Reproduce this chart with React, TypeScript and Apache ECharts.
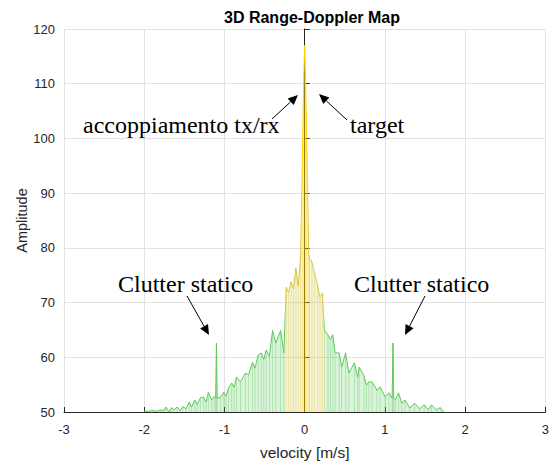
import React, { useEffect, useRef } from "react";
import * as echarts from "echarts";

// velocity [m/s] sample positions
const velocity = [
  -2.0, -1.95, -1.9, -1.85, -1.8, -1.76, -1.73, -1.69, -1.66, -1.63, -1.59, -1.55, -1.52, -1.48,
  -1.44, -1.41, -1.37, -1.34, -1.3, -1.26, -1.23, -1.2, -1.16, -1.13, -1.11, -1.1, -1.09, -1.05,
  -1.01, -0.98, -0.95, -0.91, -0.88, -0.85, -0.8, -0.74, -0.7, -0.65, -0.62, -0.58, -0.54, -0.51,
  -0.48, -0.44, -0.4, -0.36, -0.3, -0.26, -0.23, -0.2, -0.17, -0.14, -0.11, -0.08, -0.05, -0.025,
  -0.01, 0, 0.01, 0.025, 0.05, 0.06, 0.09, 0.12, 0.16, 0.19, 0.22, 0.245, 0.29, 0.32, 0.35, 0.38,
  0.43, 0.46, 0.51, 0.55, 0.62, 0.66, 0.68, 0.74, 0.77, 0.8, 0.84, 0.9, 0.94, 1.0, 1.05, 1.09, 1.1,
  1.11, 1.13, 1.17, 1.21, 1.25, 1.31, 1.37, 1.43, 1.49, 1.54, 1.58, 1.64, 1.69, 1.73,
];

// amplitude envelope values
const amplitude = [
  50.2, 50.1, 50.3, 50.1, 50.4, 50.2, 50.9, 50.0, 50.8, 50.4, 50.9, 50.3, 51.0, 50.6,
  51.8, 50.9, 52.2, 51.4, 52.6, 52.7, 51.8, 53.6, 52.2, 52.8, 52.5, 62.6, 52.5, 52.7,
  53.6, 52.9, 54.4, 55.3, 54.5, 56.4, 55.5, 57.1, 56.8, 59.1, 58.0, 60.4, 60.8, 59.6,
  61.3, 60.2, 64.9, 62.6, 64.9, 60.8, 72.8, 71.8, 73.8, 72.5, 76.3, 73.0, 79.0, 100,
  112, 117, 112, 100, 79, 78.1, 77.4, 75.5, 73.2, 71.0, 71.7, 65.0, 64.1, 63.2, 64.1, 60.8,
  60.8, 58.2, 60.8, 57.1, 59.0, 56.4, 58.2, 56.6, 54.9, 55.5, 55.5, 54.0, 54.6, 52.8, 53.5, 52.5, 62.6,
  52.5, 52.2, 53.5, 51.6, 52.2, 50.7, 51.6, 50.6, 51.3, 50.4, 51.3, 50.4, 50.8, 50.0,
];

const title = "3D Range-Doppler Map";
const xName = "velocity [m/s]";
const yName = "Amplitude";
const annotations = [
  { text: "accoppiamento tx/rx", x: 83, y: 125 },
  { text: "target", x: 350, y: 125 },
  { text: "Clutter statico", x: 118, y: 284 },
  { text: "Clutter statico", x: 354, y: 284 },
];
const arrows = [
  [272, 119, 298, 95],
  [347, 120, 319, 94],
  [187, 296, 209, 335],
  [425, 296, 405, 335],
];

function arrowGraphics(a: number[]) {
  const [x1, y1, x2, y2] = a;
  const dx = x2 - x1;
  const dy = y2 - y1;
  const len = Math.hypot(dx, dy);
  const ux = dx / len;
  const uy = dy / len;
  const L = 10;
  const W = 4.5;
  const bx = x2 - ux * L;
  const by = y2 - uy * L;
  const px = -uy;
  const py = ux;
  return [
    {
      type: "line",
      shape: { x1, y1, x2: bx, y2: by },
      style: { stroke: "#000", lineWidth: 1 },
      z: 100,
    },
    {
      type: "polygon",
      shape: {
        points: [
          [x2, y2],
          [bx + px * W, by + py * W],
          [bx - px * W, by - py * W],
        ],
      },
      style: { fill: "#000" },
      z: 100,
    },
  ];
}

export default function App() {
  const ref = useRef<HTMLDivElement>(null);
  useEffect(() => {
    if (!ref.current) return;
    const chart = echarts.init(ref.current, undefined, { renderer: "svg" });
    const data = velocity.map((v, i) => [v, amplitude[i]]);
    const axisColor = "#262626";
    const gridColor = "#e2e2e2";
    const graphics: any[] = [];
    annotations.forEach((a) =>
      graphics.push({
        type: "text",
        x: a.x,
        y: a.y,
        z: 100,
        style: {
          text: a.text,
          fill: "#000",
          font: '24px "Liberation Serif", "Times New Roman", serif',
          textVerticalAlign: "middle",
          verticalAlign: "middle",
        },
      })
    );
    arrows.forEach((a) => graphics.push(...arrowGraphics(a)));

    chart.setOption({
      animation: false,
      backgroundColor: "#fff",
      title: {
        text: title,
        left: 307,
        top: 4,
        textAlign: "center",
        textStyle: {
          fontFamily: '"Liberation Sans", Arial, sans-serif',
          fontSize: 16,
          fontWeight: "bold",
          color: "#000",
        },
      },
      grid: { left: 64, right: 2, top: 29, bottom: 55 },
      xAxis: {
        type: "value",
        min: -3,
        max: 3,
        interval: 1,
        name: xName,
        nameLocation: "middle",
        nameGap: 32,
        nameMoveOverlap: false,
        nameTextStyle: {
          fontFamily: '"Liberation Sans", Arial, sans-serif',
          fontSize: 15.5,
          color: axisColor,
        },
        axisLine: { show: true, onZero: false, lineStyle: { color: axisColor, width: 1 } },
        axisTick: { show: true, inside: true, length: 5, lineStyle: { color: axisColor } },
        axisLabel: {
          fontFamily: '"Liberation Sans", Arial, sans-serif',
          fontSize: 13,
          color: axisColor,
          margin: 11,
        },
        splitLine: { show: true, lineStyle: { color: gridColor, width: 1 } },
      },
      yAxis: {
        type: "value",
        min: 50,
        max: 120,
        interval: 10,
        name: yName,
        nameLocation: "middle",
        nameGap: 35,
        nameMoveOverlap: false,
        nameTextStyle: {
          fontFamily: '"Liberation Sans", Arial, sans-serif',
          fontSize: 14.5,
          color: axisColor,
        },
        axisLine: { show: true, lineStyle: { color: axisColor, width: 1 } },
        axisTick: { show: true, inside: true, length: 5, lineStyle: { color: axisColor } },
        axisLabel: {
          fontFamily: '"Liberation Sans", Arial, sans-serif',
          fontSize: 13,
          color: axisColor,
          margin: 9,
        },
        splitLine: { show: true, lineStyle: { color: gridColor, width: 1 } },
      },
      visualMap: {
        type: "piecewise",
        show: false,
        dimension: 0,
        seriesIndex: [0, 1],
        pieces: [
          { lt: -0.245, color: "#5cc95c" },
          { gte: -0.245, lt: -0.04, color: "#d6c840" },
          { gte: -0.04, lte: 0.04, color: "#ffd400" },
          { gt: 0.04, lte: 0.245, color: "#d6c840" },
          { gt: 0.245, color: "#5cc95c" },
        ],
      },
      series: [
        {
          type: "line",
          data,
          showSymbol: false,
          symbol: "none",
          lineStyle: { width: 1 },
          areaStyle: { opacity: 0.22, origin: "start" },
          z: 3,
        },
        {
          type: "bar",
          data,
          barWidth: 1,
          itemStyle: { opacity: 0.35 },
          z: 2,
        },
      ],
      graphic: graphics,
    });
    return () => chart.dispose();
  }, []);
  return <div ref={ref} style={{ width: 552, height: 467, position: "absolute", left: 0, top: 0 }} />;
}
